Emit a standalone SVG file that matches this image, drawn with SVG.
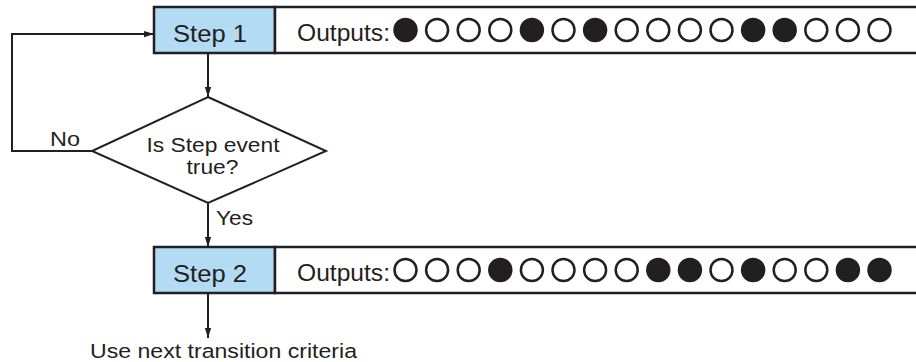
<svg xmlns="http://www.w3.org/2000/svg" width="916" height="362" viewBox="0 0 916 362">
<style>
text{font-family:"Liberation Sans",Arial,sans-serif;fill:#231f20}
.step{fill:#b3dbf3;stroke:#231f20;stroke-width:2.5}
.out{fill:#fff;stroke:#231f20;stroke-width:2.5}
.lbl{font-size:23.5px}
.sm{font-size:20.5px}
.on{fill:#231f20;stroke:#231f20;stroke-width:2.5}
.off{fill:#fff;stroke:#231f20;stroke-width:2.5}
.ln{fill:none;stroke:#231f20;stroke-width:2}
</style>
<defs>
<marker id="ah" markerWidth="10" markerHeight="16" refX="16" refY="5" viewBox="0 0 16 10" orient="auto" markerUnits="userSpaceOnUse">
<path d="M0,0 L16,5 L0,10 Z" fill="#231f20"/>
</marker>
<g id="c-on"><circle r="11" class="on"/></g>
<g id="c-off"><circle r="11" class="off"/></g>
</defs>

<g id="connectors">
<line class="ln" x1="208" y1="54" x2="208" y2="97" marker-end="url(#ah)"/>
<polyline class="ln" points="92,151 12,151 12,34 154,34" marker-end="url(#ah)"/>
<line class="ln" x1="208" y1="203" x2="208" y2="247" marker-end="url(#ah)"/>
<line class="ln" x1="208" y1="294" x2="208" y2="338" marker-end="url(#ah)"/>
<text class="sm" x="50" y="146" textLength="30" lengthAdjust="spacingAndGlyphs">No</text>
<text class="sm" x="216" y="225" textLength="37" lengthAdjust="spacingAndGlyphs">Yes</text>
<text class="sm" x="90" y="357.5" textLength="267" lengthAdjust="spacingAndGlyphs">Use next transition criteria</text>
</g>

<g id="step1">
<rect class="step" x="154" y="7" width="121" height="46"/>
<text class="lbl" x="173" y="41.5" textLength="74" lengthAdjust="spacingAndGlyphs">Step 1</text>
</g>

<g id="step1-outputs">
<rect class="out" x="275" y="7" width="650" height="46"/>
<text class="lbl" x="297" y="40.5" textLength="93" lengthAdjust="spacingAndGlyphs">Outputs:</text>
<use href="#c-on" x="405.5" y="30"/>
<use href="#c-off" x="437.1" y="30"/>
<use href="#c-off" x="468.7" y="30"/>
<use href="#c-off" x="500.3" y="30"/>
<use href="#c-on" x="531.9" y="30"/>
<use href="#c-off" x="563.5" y="30"/>
<use href="#c-on" x="595.1" y="30"/>
<use href="#c-off" x="626.7" y="30"/>
<use href="#c-off" x="658.3" y="30"/>
<use href="#c-off" x="689.9" y="30"/>
<use href="#c-off" x="721.5" y="30"/>
<use href="#c-on" x="753.1" y="30"/>
<use href="#c-on" x="784.7" y="30"/>
<use href="#c-off" x="816.3" y="30"/>
<use href="#c-off" x="847.9" y="30"/>
<use href="#c-off" x="879.5" y="30"/>
</g>

<g id="decision">
<polygon class="ln" points="208,97 326,151 208,203 92,151" style="fill:#fff"/>
<text class="sm" x="213" y="152" text-anchor="middle" textLength="133" lengthAdjust="spacingAndGlyphs">Is Step event</text>
<text class="sm" x="212.5" y="174" text-anchor="middle" textLength="52" lengthAdjust="spacingAndGlyphs">true?</text>
</g>

<g id="step2">
<rect class="step" x="154" y="247" width="121" height="46"/>
<text class="lbl" x="173" y="281.5" textLength="74" lengthAdjust="spacingAndGlyphs">Step 2</text>
</g>

<g id="step2-outputs">
<rect class="out" x="275" y="247" width="650" height="46"/>
<text class="lbl" x="297" y="280.5" textLength="93" lengthAdjust="spacingAndGlyphs">Outputs:</text>
<use href="#c-off" x="405.5" y="270"/>
<use href="#c-off" x="437.1" y="270"/>
<use href="#c-off" x="468.7" y="270"/>
<use href="#c-on" x="500.3" y="270"/>
<use href="#c-off" x="531.9" y="270"/>
<use href="#c-off" x="563.5" y="270"/>
<use href="#c-off" x="595.1" y="270"/>
<use href="#c-off" x="626.7" y="270"/>
<use href="#c-on" x="658.3" y="270"/>
<use href="#c-on" x="689.9" y="270"/>
<use href="#c-off" x="721.5" y="270"/>
<use href="#c-on" x="753.1" y="270"/>
<use href="#c-off" x="784.7" y="270"/>
<use href="#c-off" x="816.3" y="270"/>
<use href="#c-on" x="847.9" y="270"/>
<use href="#c-on" x="879.5" y="270"/>
</g>
</svg>
